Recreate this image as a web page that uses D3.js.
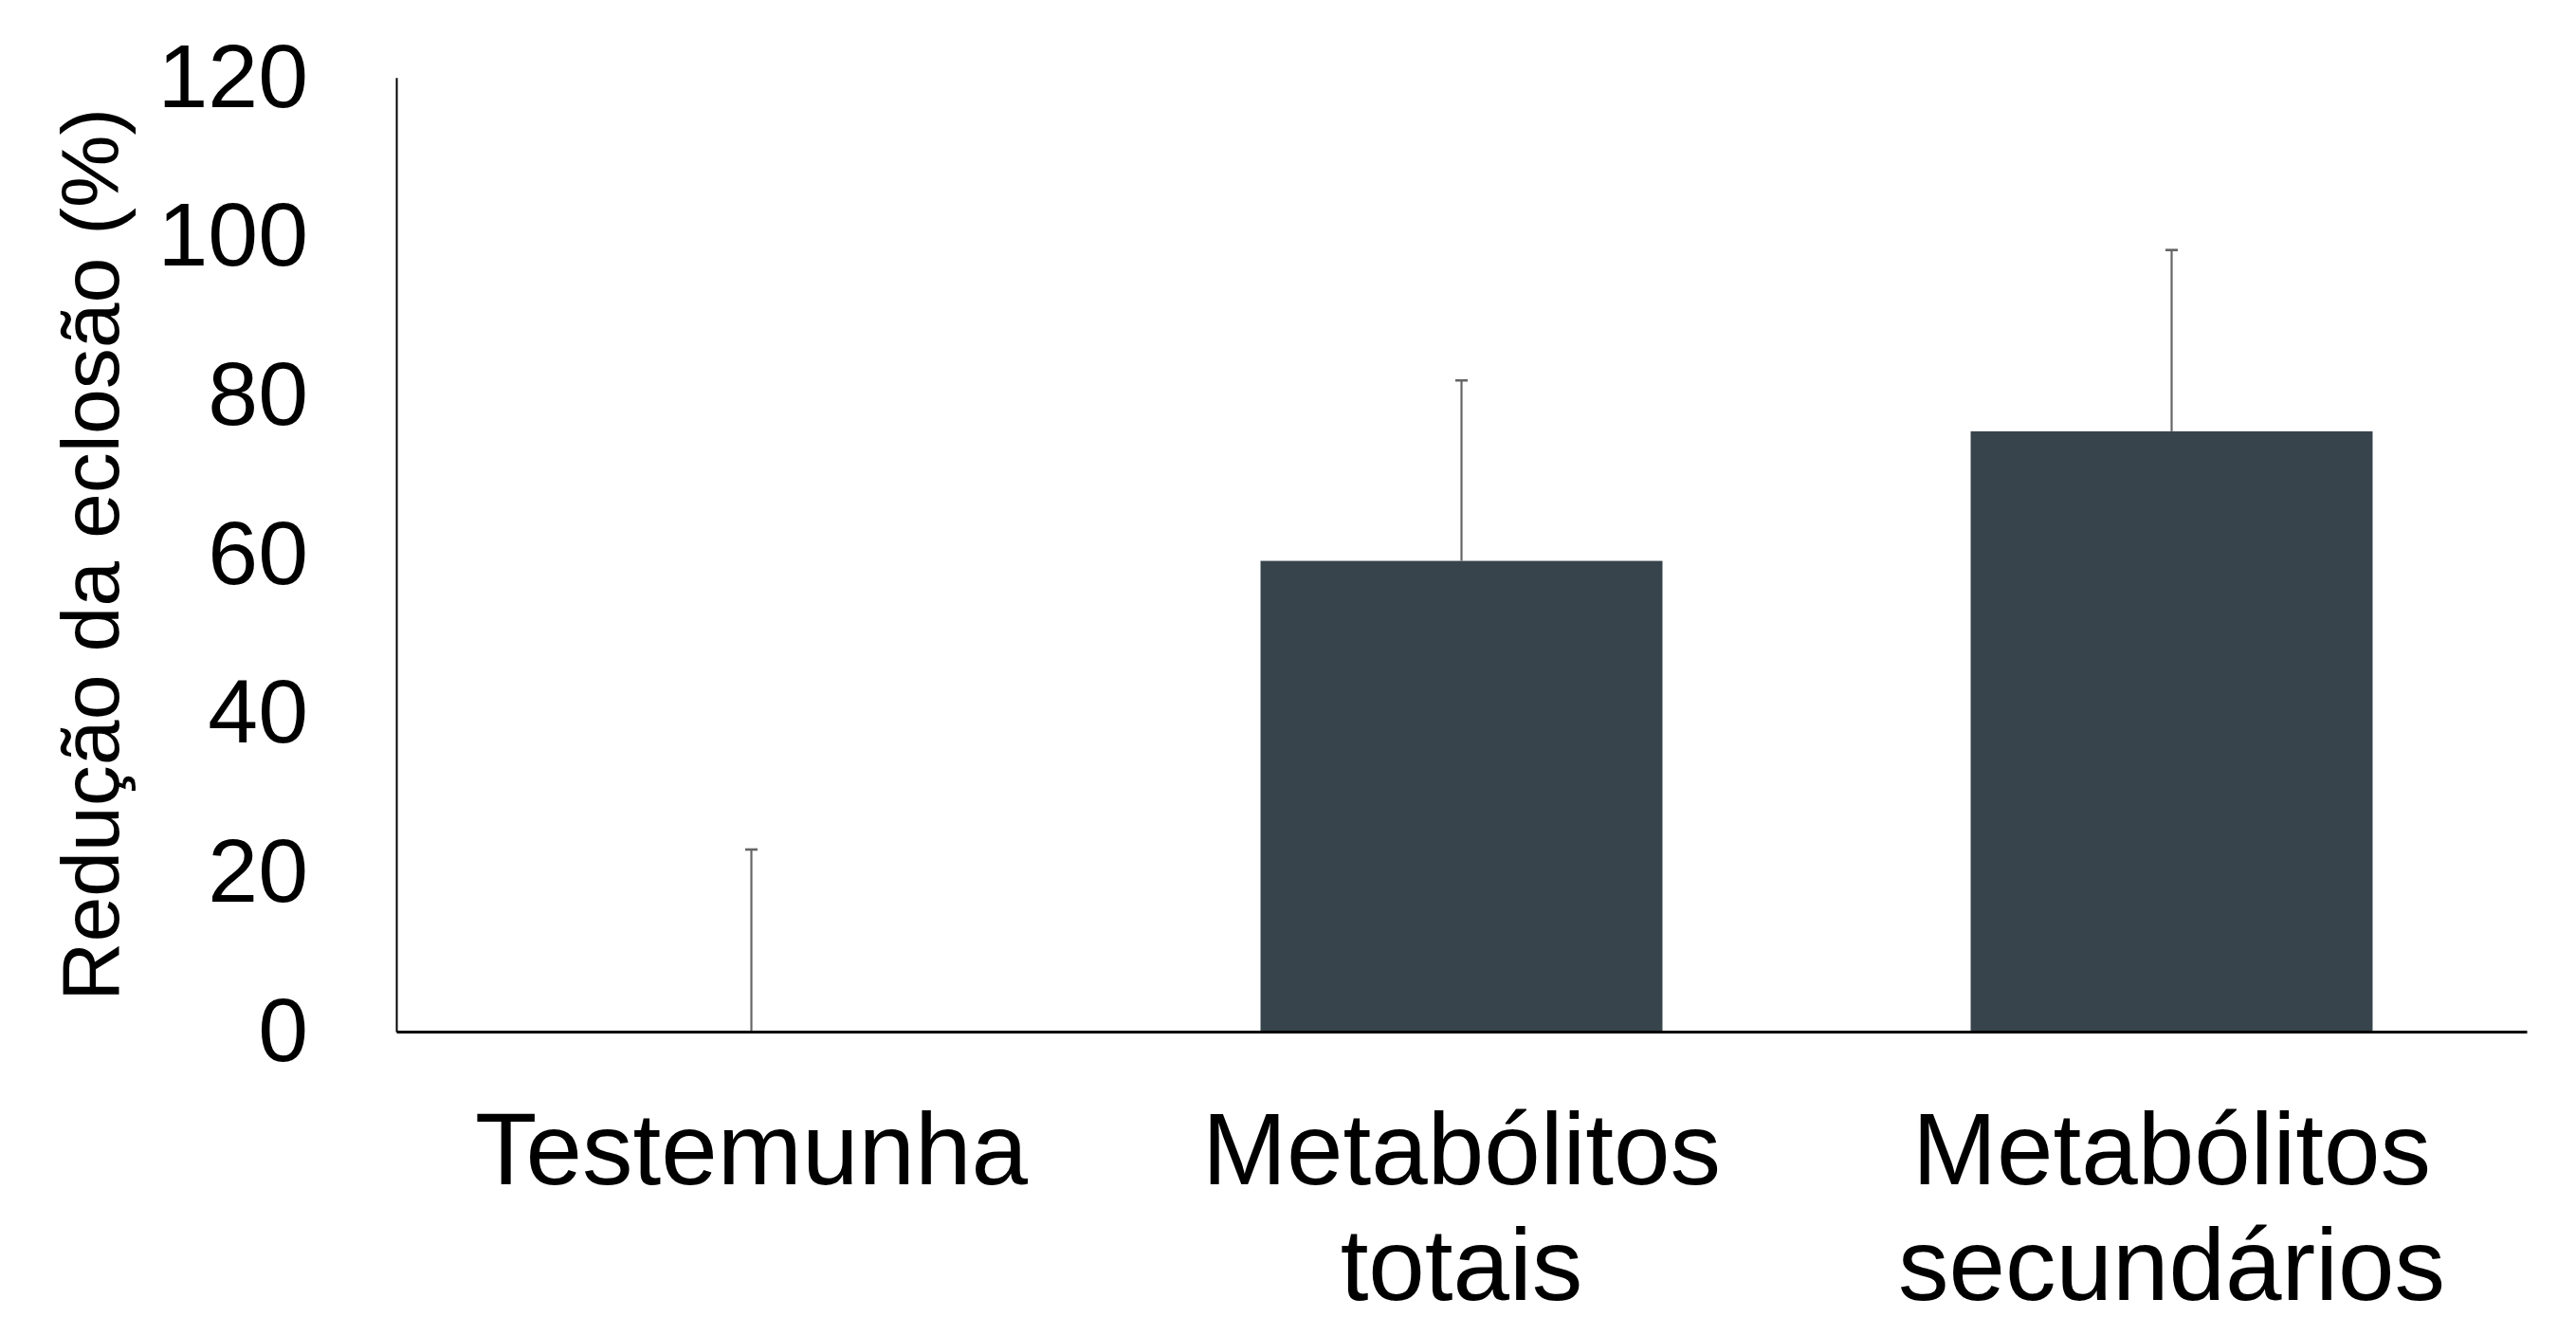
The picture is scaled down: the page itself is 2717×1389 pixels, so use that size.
<!DOCTYPE html>
<html>
<head>
<meta charset="utf-8">
<script src="https://cdn.jsdelivr.net/npm/d3@7"></script>
<style>
  html, body { margin: 0; padding: 0; background: #ffffff; }
  svg { display: block; font-family: "Liberation Sans", Arial, sans-serif; }
</style>
</head>
<body>
<svg id="chart" width="2717" height="1389"></svg>
<script>
// Treatments (x-axis categories, lines split with "\n")
const categories = ["Testemunha", "Metabólitos\ntotais", "Metabólitos\nsecundários"];
// Mean hatching reduction (%)
const means = [0, 59.2, 75.5];
// Standard error added above each mean (%)
const errors = [22.9, 22.7, 22.8];
// Y-axis ticks
const yTicks = [0, 20, 40, 60, 80, 100, 120];
const yLabel = "Redução da eclosão (%)";

const svg = d3.select("#chart");
const plotLeft = 418, plotRight = 2665, plotTop = 81.7, plotBottom = 1088;

const x = d3.scaleBand()
  .domain(categories)
  .range([plotLeft, plotRight])
  .paddingInner(0.434)
  .paddingOuter(0.217);

const y = d3.scaleLinear()
  .domain([0, 120])
  .range([plotBottom, plotTop]);

const data = categories.map((c, i) => ({ cat: c, mean: means[i], err: errors[i] }));

// Bars
svg.append("g")
  .selectAll("rect")
  .data(data)
  .join("rect")
  .attr("x", d => x(d.cat))
  .attr("y", d => y(d.mean))
  .attr("width", x.bandwidth())
  .attr("height", d => y(0) - y(d.mean))
  .attr("fill", "#37444c");

// Error bars (upper only)
const eb = svg.append("g")
  .attr("stroke", "#666666")
  .attr("stroke-width", 2.2);
eb.selectAll("line.stem")
  .data(data)
  .join("line")
  .attr("class", "stem")
  .attr("x1", d => x(d.cat) + x.bandwidth() / 2)
  .attr("x2", d => x(d.cat) + x.bandwidth() / 2)
  .attr("y1", d => y(d.mean))
  .attr("y2", d => y(d.mean + d.err));
eb.selectAll("line.cap")
  .data(data)
  .join("line")
  .attr("class", "cap")
  .attr("x1", d => x(d.cat) + x.bandwidth() / 2 - 6.5)
  .attr("x2", d => x(d.cat) + x.bandwidth() / 2 + 6.5)
  .attr("y1", d => y(d.mean + d.err))
  .attr("y2", d => y(d.mean + d.err))
  .attr("stroke-width", 2.6);

// Y axis
const yAxis = svg.append("g")
  .attr("transform", `translate(${plotLeft},0)`)
  .call(d3.axisLeft(y).tickValues(yTicks).tickSize(0).tickSizeOuter(0).tickPadding(93));
yAxis.select(".domain").attr("stroke", "#000").attr("stroke-width", 2);
yAxis.selectAll("text")
  .attr("font-size", 95)
  .attr("font-family", "'Liberation Sans', Arial, sans-serif")
  .attr("fill", "#000");

// X axis
const xAxis = svg.append("g")
  .attr("transform", `translate(0,${plotBottom})`)
  .call(d3.axisBottom(x).tickSize(0).tickSizeOuter(0).tickFormat(""));
xAxis.select(".domain").attr("stroke", "#000").attr("stroke-width", 3);

// Category labels, one tspan per line
const labels = svg.append("g")
  .attr("font-size", 107)
  .attr("text-anchor", "middle")
  .attr("fill", "#000");
labels.selectAll("text")
  .data(categories)
  .join("text")
  .attr("x", d => x(d) + x.bandwidth() / 2)
  .attr("y", 1249)
  .each(function (d) {
    const t = d3.select(this);
    d.split("\n").forEach((line, i) => {
      t.append("tspan")
        .attr("x", x(d) + x.bandwidth() / 2)
        .attr("dy", i === 0 ? 0 : 122)
        .text(line);
    });
  });

// Y-axis title
svg.append("text")
  .attr("transform", `translate(125,${(plotTop + plotBottom) / 2}) rotate(-90)`)
  .attr("text-anchor", "middle")
  .attr("font-size", 86)
  .attr("fill", "#000")
  .text(yLabel);
</script>
</body>
</html>
